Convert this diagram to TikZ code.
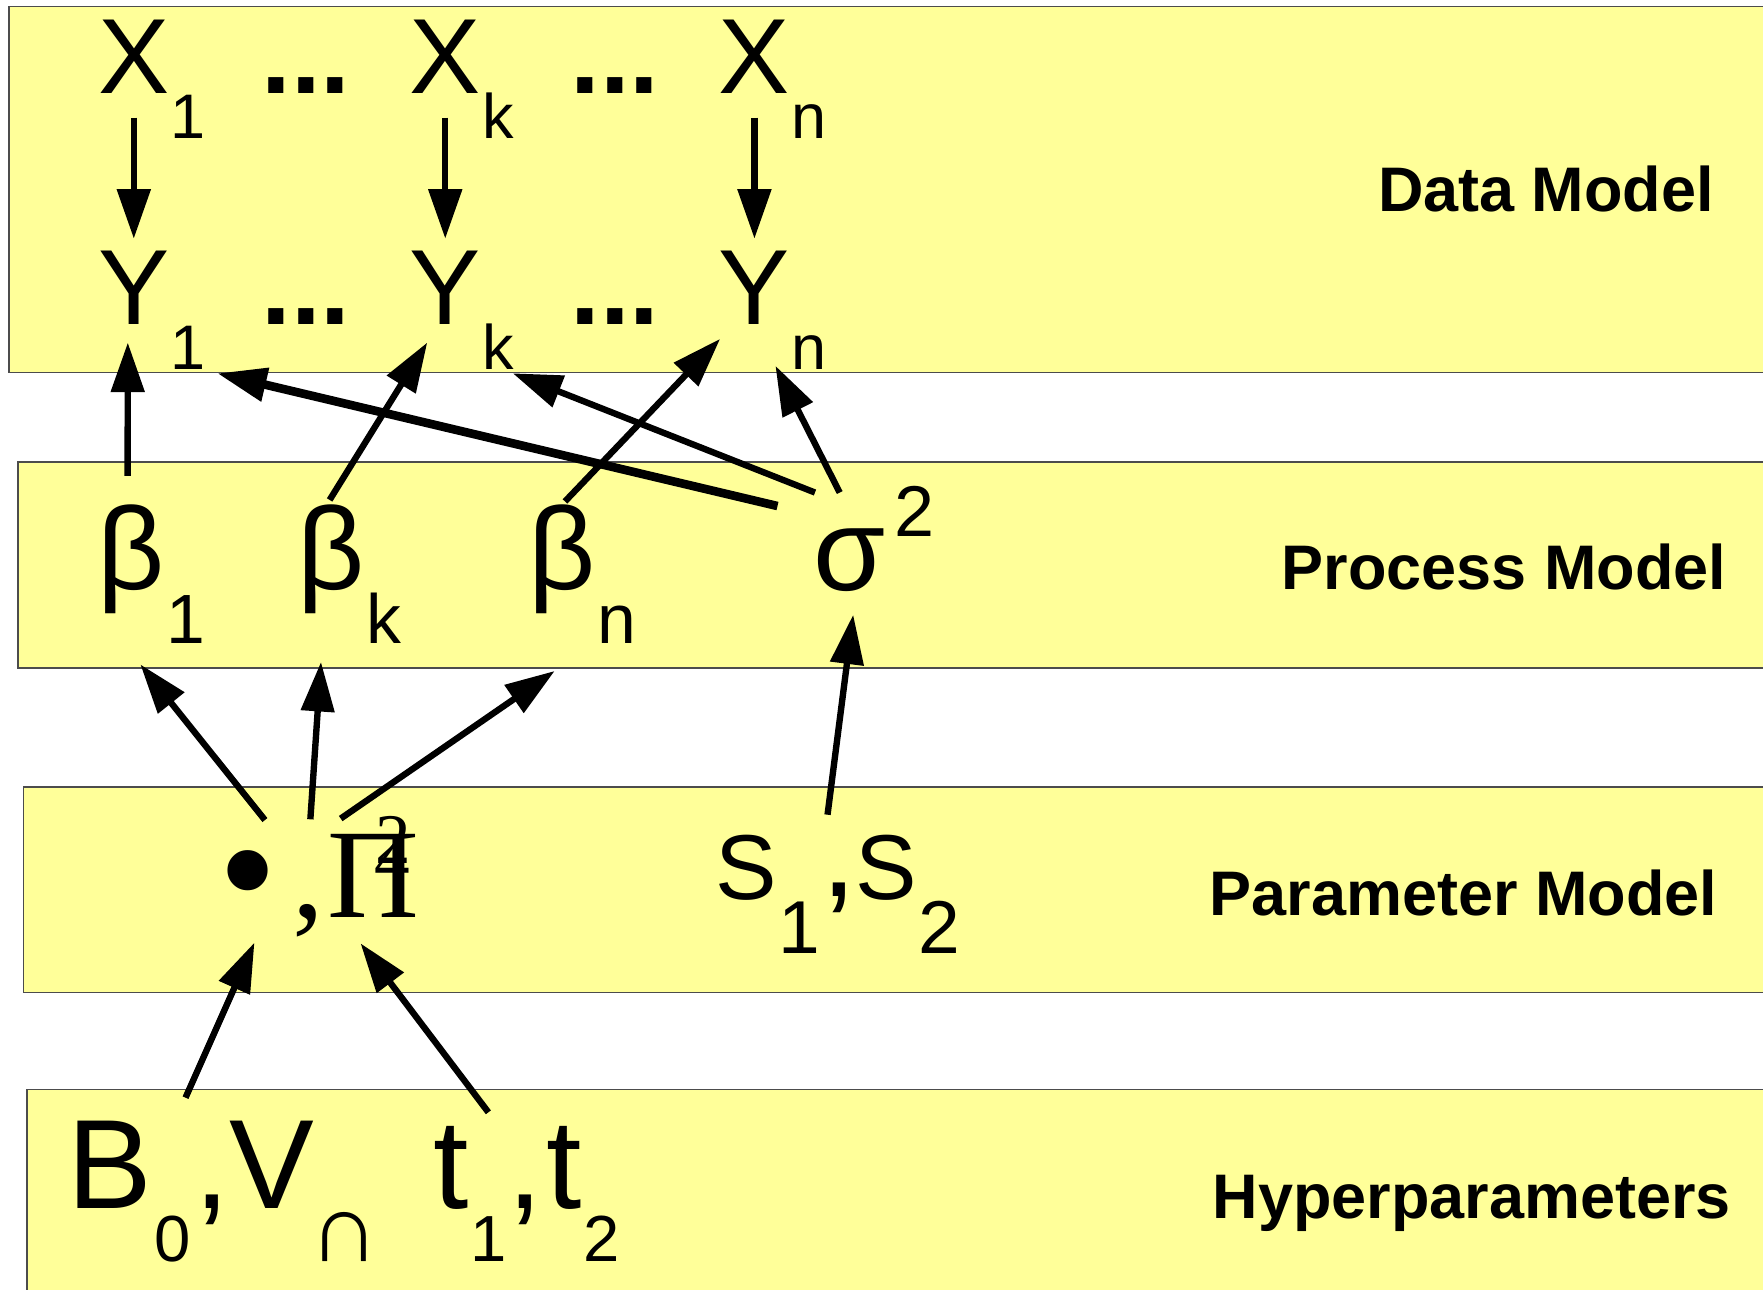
\documentclass[tikz,border=0pt]{standalone}
\usepackage{fontspec}
\setmainfont{Liberation Sans}
\newfontfamily\seriffont{Liberation Serif}
\usetikzlibrary{arrows.meta, positioning, calc}
\definecolor{bandyellow}{RGB}{255,255,153}

\begin{document}
\begin{tikzpicture}[
    x=0.3pt, y=-0.3pt,
    band/.style={draw=black!70, line width=0.35pt, fill=bandyellow},
    var/.style={inner sep=0pt, anchor=base, font=\fontsize{28.5}{30}\selectfont},
    dots/.style={inner sep=0pt, anchor=base, font=\bfseries\fontsize{28.5}{30}\selectfont},
    sub/.style={inner sep=0pt, anchor=base west, font=\fontsize{16.8}{18}\selectfont},
    greek/.style={inner sep=0pt, anchor=base, font=\fontsize{31.2}{33}\selectfont},
    gsub/.style={inner sep=0pt, anchor=base west, font=\fontsize{18.6}{20}\selectfont},
    svar/.style={inner sep=0pt, anchor=base, font=\fontsize{24.6}{26}\selectfont},
    ssub/.style={inner sep=0pt, anchor=base west, font=\fontsize{20}{22}\selectfont},
    hvar/.style={inner sep=0pt, anchor=base, font=\fontsize{33.9}{36}\selectfont},
    hsub/.style={inner sep=0pt, anchor=base west, font=\fontsize{17.4}{19}\selectfont},
    odd/.style={inner sep=0pt, font=\seriffont\fontsize{33.9}{36}\selectfont},
    oddsmall/.style={inner sep=0pt, anchor=base, font=\seriffont\fontsize{19}{20}\selectfont},
    modellabel/.style={inner sep=0pt, anchor=base east, font=\bfseries\fontsize{16.8}{18}\selectfont},
    arr/.style={line width=1.7pt, -{Triangle[length=13.2pt, width=8.7pt]}},
    thickarr/.style={line width=2.3pt, -{Triangle[length=13.2pt, width=8.7pt]}}
]
\useasboundingbox (0,0) rectangle (1568,1147);
\clip (0,0) rectangle (1568,1147);

\draw[band] (8,6) rectangle (1600,331);
\draw[band] (16,411) rectangle (1600,594);
\draw[band] (21,700) rectangle (1600,883);
\draw[band] (24,969) rectangle (1600,1200);

% data model
\node (X1) [var] at (119,83) {X};
\node (X1s) [sub] at ([yshift=-12pt]X1.base east) {1};
\node (DotsX1) [dots] at (272,83) {...};
\node (Xk) [var] at (396,83) {X};
\node (Xks) [sub] at ([yshift=-12pt]Xk.base east) {k};
\node (DotsX2) [dots] at (547,83) {...};
\node (Xn) [var] at (671,83) {X};
\node (Xns) [sub] at ([yshift=-12pt]Xn.base east) {n};

\node (Y1) [var] at (119,289) {Y};
\node (Y1s) [sub] at ([yshift=-12pt]Y1.base east) {1};
\node (DotsY1) [dots] at (272,289) {...};
\node (Yk) [var] at (396,289) {Y};
\node (Yks) [sub] at ([yshift=-12pt]Yk.base east) {k};
\node (DotsY2) [dots] at (547,289) {...};
\node (Yn) [var] at (671,289) {Y};
\node (Yns) [sub] at ([yshift=-12pt]Yn.base east) {n};

% process model
\node (Beta1) [greek] at (116.5,524) {β};
\node (Beta1s) [gsub] at ([yshift=-14.4pt]Beta1.base east) {1};
\node (Betak) [greek] at (294.5,524) {β};
\node (Betaks) [gsub] at ([yshift=-14.4pt]Betak.base east) {k};
\node (Betan) [greek] at (500,524) {β};
\node (Betans) [gsub] at ([yshift=-14.4pt]Betan.base east) {n};
\node (Sigma) [greek] at (755.5,525) {σ};
\node (Sigma2) [gsub, font=\fontsize{19.2}{20}\selectfont] at ([xshift=2pt, yshift=14.4pt]Sigma.base east) {2};

% parameter model
\node (Bullet) [odd, font=\seriffont\fontsize{45}{48}\selectfont] at (220.3,790) {•};
\node (Comma) [odd, anchor=base] at (274.5,816) {,};
\node (Pi) [odd, anchor=base] at (332,816) {Π};
\node (PiTwo) [oddsmall] at (350,768) {2};
\node (PiFour) [oddsmall] at (349,786) {4};

\node (S1) [svar] at (664,800) {S};
\node (S1s) [ssub] at ([yshift=-14.4pt]S1.base east) {1};
\node (SComma) [hvar] at (746,797) {,};
\node (S2) [svar] at (788.5,800) {S};
\node (S2s) [ssub] at ([yshift=-14.4pt]S2.base east) {2};

% hyperparameters
\node (B) [hvar] at (98,1075) {B};
\node (B0) [hsub] at ([yshift=-14.1pt]B.base east) {0};
\node (BComma) [hvar] at (189,1075) {,};
\node (V) [hvar] at (241.5,1075) {V};
\node (Vs) [hsub, font=\fontsize{26}{28}\selectfont] at ([xshift=-1.6pt, yshift=-14.1pt]V.base east) {∩};
\node (T1) [hvar] at (401,1075) {t};
\node (T1s) [hsub] at ([yshift=-14.1pt]T1.base east) {1};
\node (TComma) [hvar] at (467,1075) {,};
\node (T2) [hvar] at (502,1075) {t};
\node (T2s) [hsub] at ([yshift=-14.1pt]T2.base east) {2};

% model labels
\node (DataLabel) [modellabel] at (1525,188.5) {Data Model};
\node (ProcessLabel) [modellabel] at (1536,524.7) {Process Model};
\node (ParameterLabel) [modellabel] at (1528,813.8) {Parameter Model};
\node (HyperLabel) [modellabel] at (1540,1083.5) {Hyperparameters};

% connectors
\draw[arr, shorten <=6.3pt, shorten >=3.2pt] (X1) -- (Y1);
\draw[arr, shorten <=6.3pt, shorten >=3.2pt] (Xk) -- (Yk);
\draw[arr, shorten <=6.3pt, shorten >=3.2pt] (Xn) -- (Yn);

\draw[arr] ([xshift=-0.9pt, yshift=7.4pt]Beta1.north) -- ([xshift=-1.6pt, yshift=-4.5pt]Y1.south);
\draw[arr] ([xshift=-0.4pt, yshift=1pt]Betak.north) -- ([xshift=-4.8pt, yshift=-4.5pt]Yk.south);
\draw[arr] ([xshift=0.75pt, yshift=0.6pt]Betan.north) -- ([xshift=-9.15pt, yshift=-3.5pt]Yn.south);
\draw[thickarr] ([xshift=-19.2pt, yshift=5.8pt]Sigma.north) -- ([xshift=2.8pt, yshift=-0.7pt]Y1s.south east);
\draw[arr] ([xshift=-9.2pt, yshift=9.4pt]Sigma.north) -- ([xshift=-0.5pt, yshift=-0.7pt]Yks.south east);
\draw[arr] ([xshift=-2.6pt, yshift=9.4pt]Sigma.north) -- ([xshift=-4.1pt, yshift=1.3pt]Yns.south west);

\draw[arr] ([xshift=4.6pt, yshift=18.2pt]Bullet.center) -- ([xshift=2.5pt, yshift=-13.4pt]Beta1.south);
\draw[arr] ([xshift=-4.35pt, yshift=3.8pt]Pi.north west) -- ([xshift=-2.7pt, yshift=-12.75pt]Betak.south);
\draw[arr] ([xshift=3.75pt, yshift=4pt]Pi.north west) -- ([xshift=-2pt, yshift=-15.15pt]Betan.south);
\draw[arr] ([xshift=-3pt, yshift=17.9pt]SComma.north) -- ([xshift=1pt, yshift=-6pt]Sigma.south);

\draw[arr] ([xshift=8.6pt, yshift=6.1pt]B.north east) -- ([xshift=1.8pt, yshift=-14.5pt]Bullet.center);
\draw[arr] ([xshift=5.1pt, yshift=3.6pt]T1.north east) -- ([xshift=-3.4pt, yshift=-6.7pt]Pi.south);

\end{tikzpicture}
\end{document}
